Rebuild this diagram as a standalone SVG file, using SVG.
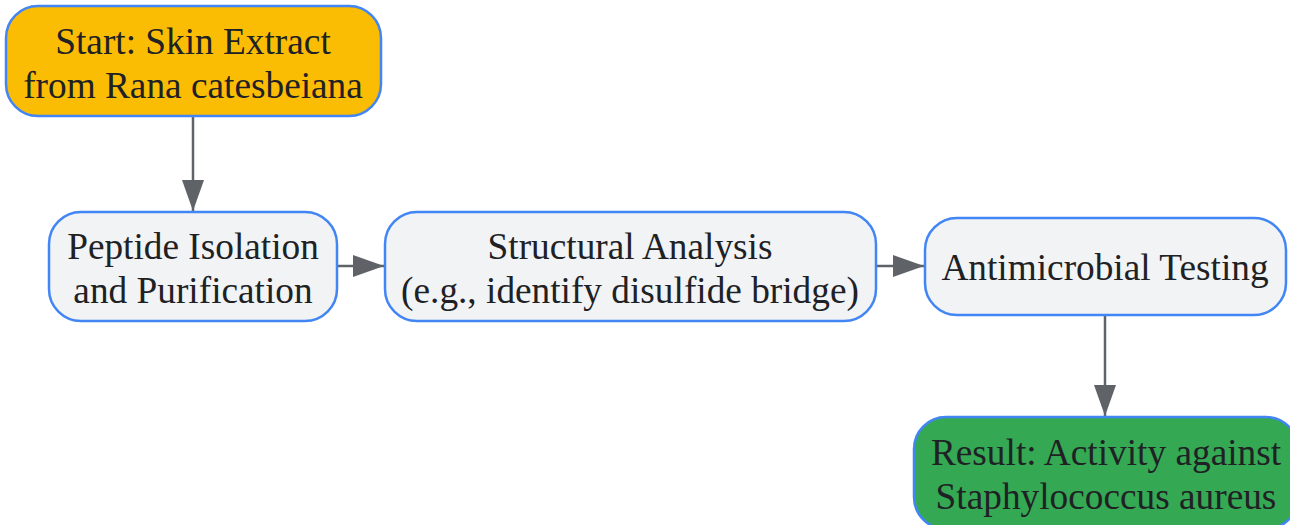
<svg xmlns="http://www.w3.org/2000/svg" width="1290" height="525" viewBox="0 0 1290 525">
<defs>
<style>
.node rect{stroke:#4285F4;stroke-width:2.5}
.n-default rect{fill:#F1F3F4}
.n-start rect{fill:#FBBC04}
.n-result rect{fill:#34A853}
text{font-family:"Liberation Serif","Times New Roman",serif;font-size:37.3px;fill:#202124;text-anchor:middle}
.edge{stroke:#5F6368;stroke-width:2.5;fill:none}
</style>
<marker id="arrow" viewBox="0 0 31 22" refX="31" refY="11" markerWidth="31" markerHeight="22" markerUnits="userSpaceOnUse" orient="auto">
<path d="M0,0 L31,11 L0,22 Z" fill="#5F6368"/>
</marker>
</defs>
<rect width="1290" height="525" fill="#FFFFFF"/>
<g id="connectors">
<line class="edge" x1="193" y1="117" x2="193" y2="211" marker-end="url(#arrow)"/>
<line class="edge" x1="338" y1="266" x2="384" y2="266" marker-end="url(#arrow)"/>
<line class="edge" x1="877" y1="266" x2="924" y2="266" marker-end="url(#arrow)"/>
<line class="edge" x1="1105" y1="316" x2="1105" y2="416" marker-end="url(#arrow)"/>
</g>
<g id="start" class="node n-start">
<rect x="6" y="6" width="375" height="110" rx="32" ry="32"/>
<text x="193" y="54">Start: Skin Extract</text>
<text x="193" y="98">from Rana catesbeiana</text>
</g>
<g id="isolation" class="node n-default">
<rect x="49" y="212" width="288" height="109" rx="32" ry="32"/>
<text x="193" y="259">Peptide Isolation</text>
<text x="193" y="303">and Purification</text>
</g>
<g id="structural" class="node n-default">
<rect x="385" y="212" width="491" height="109" rx="32" ry="32"/>
<text x="630" y="259">Structural Analysis</text>
<text x="630" y="303">(e.g., identify disulfide bridge)</text>
</g>
<g id="antimicrobial" class="node n-default">
<rect x="925" y="218" width="361" height="97" rx="32" ry="32"/>
<text x="1105" y="280">Antimicrobial Testing</text>
</g>
<g id="result" class="node n-result">
<rect x="914" y="417" width="384" height="112" rx="32" ry="32"/>
<text x="1106" y="465">Result: Activity against</text>
<text x="1106" y="509">Staphylococcus aureus</text>
</g>
</svg>
